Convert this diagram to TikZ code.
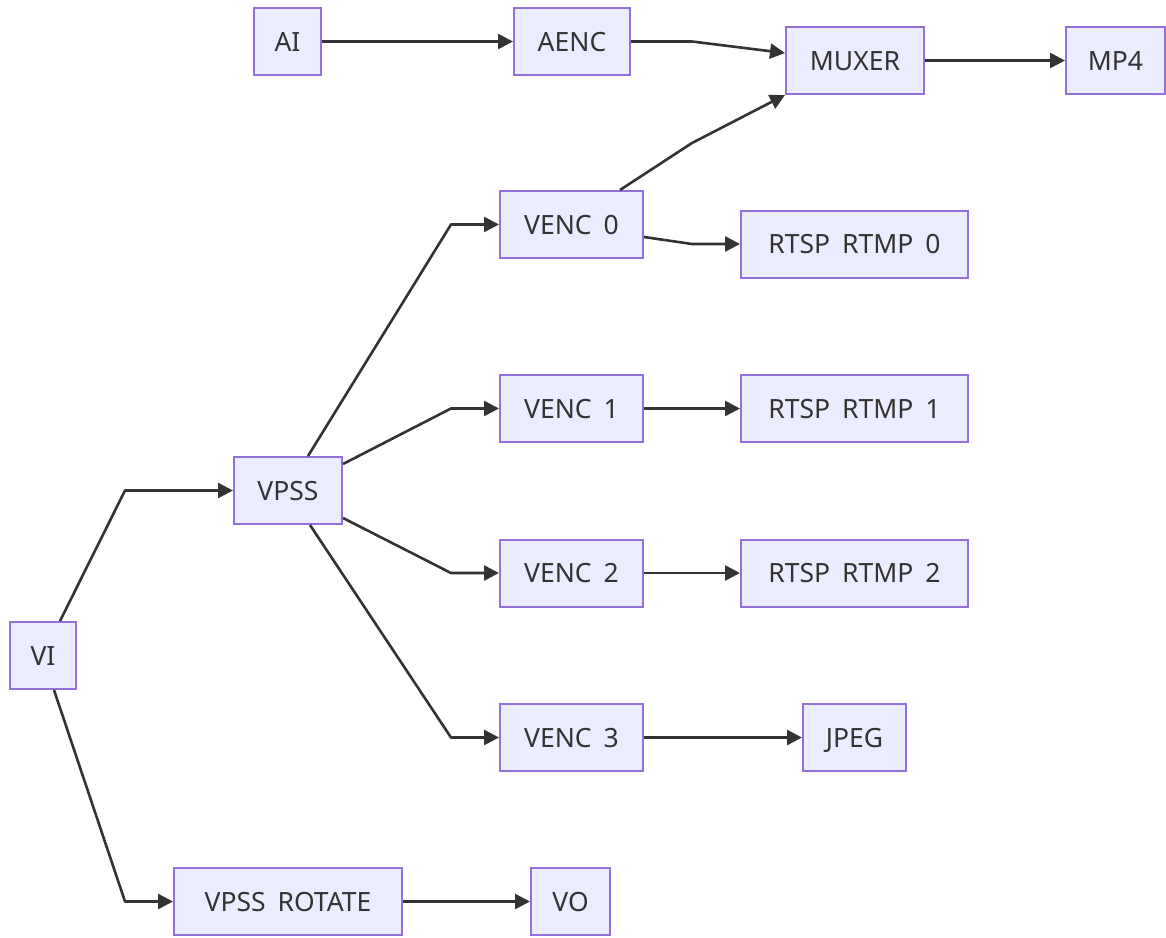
\documentclass[tikz,border=0pt]{standalone}
\usepackage{fontspec}
\setmainfont{Noto Sans}
\usetikzlibrary{arrows.meta}
\definecolor{boxfill}{HTML}{ECECFF}
\definecolor{boxline}{HTML}{9370DB}
\definecolor{ink}{HTML}{333333}
\newcommand{\gap}{\hspace{0.45em}}
\tikzset{
  box/.style={draw=boxline, fill=boxfill, line width=2pt, inner sep=0pt,
    minimum height=67pt, text=ink, text height=19pt, text depth=0pt,
    font=\fontsize{26.5}{31}\selectfont},
  edge/.style={draw=ink, line width=2.6pt, line join=round,
    -{Triangle[length=15pt,width=15pt]}}
}
\begin{document}
\begin{tikzpicture}[x=1pt,y=-1pt]
\useasboundingbox (0,0) rectangle (1166,937);
% nodes
\node[box, minimum width=67pt]  (ai)    at (287.5,41.5) {AI};
\node[box, minimum width=116pt] (aenc)  at (572,41.5)   {AENC};
\node[box, minimum width=138pt] (muxer) at (855,60.5)   {MUXER};
\node[box, minimum width=99pt]  (mp4)   at (1115.5,60.5){MP4};
\node[box, minimum width=143pt] (venc0) at (571.5,224.5){VENC\gap 0};
\node[box, minimum width=227pt] (rtsp0) at (854.5,244)  {RTSP\gap RTMP\gap 0};
\node[box, minimum width=143pt] (venc1) at (571.5,408.5){VENC\gap 1};
\node[box, minimum width=227pt] (rtsp1) at (854.5,408.5){RTSP\gap RTMP\gap 1};
\node[box, minimum width=108pt] (vpss)  at (288,490.5)  {VPSS};
\node[box, minimum width=143pt] (venc2) at (571.5,573)  {VENC\gap 2};
\node[box, minimum width=227pt] (rtsp2) at (854.5,573)  {RTSP\gap RTMP\gap 2};
\node[box, minimum width=66pt]  (vi)    at (43,655.5)   {VI};
\node[box, minimum width=143pt] (venc3) at (571.5,737.5){VENC\gap 3};
\node[box, minimum width=103pt] (jpeg)  at (854.5,737.5){JPEG};
\node[box, minimum width=228pt] (rot)   at (288,901.5)  {VPSS\gap ROTATE};
\node[box, minimum width=79pt]  (vo)    at (570.5,901.5){VO};
% connectors
\draw[edge] (ai) -- (aenc);
\draw[edge] (aenc.east) -- (692,41.5) -- ([yshift=7.5pt]muxer.west);
\draw[edge] ([xshift=48.5pt]venc0.north) -- (692,143) -- (muxer.south west);
\draw[edge] (muxer) -- (mp4);
\draw[edge] ([yshift=-12.5pt]venc0.east) -- (692,244) -- (rtsp0.west);
\draw[edge] ([xshift=17pt]vi.north) -- (125,490.5) -- (vpss.west);
\draw[edge] ([xshift=11pt]vi.south) -- (125,901.5) -- (rot.west);
\draw[edge] ([xshift=20pt]vpss.north) -- (451,224.5) -- (venc0.west);
\draw[edge] ([yshift=26.5pt]vpss.east) -- (451,408.5) -- (venc1.west);
\draw[edge] ([yshift=-27.5pt]vpss.east) -- (451,573) -- (venc2.west);
\draw[edge] ([xshift=22pt]vpss.south) -- (451,737.5) -- (venc3.west);
\draw[edge] (venc1) -- (rtsp1);
\draw[edge] (venc2) -- (rtsp2);
\draw[edge] (venc3) -- (jpeg);
\draw[edge] (rot) -- (vo);
\end{tikzpicture}
\end{document}
